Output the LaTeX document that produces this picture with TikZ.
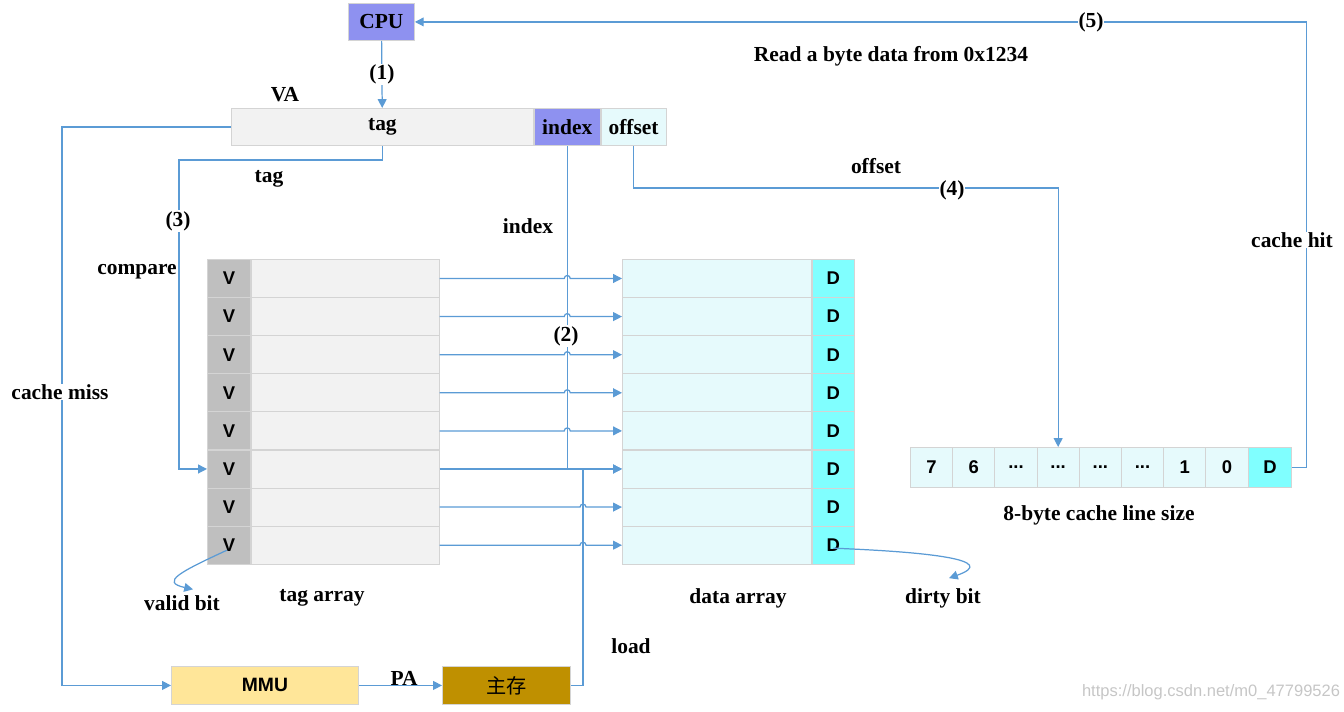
\documentclass[tikz,border=0pt]{standalone}
\usepackage{fontspec}
\setmainfont{Liberation Serif}
\setsansfont{Liberation Sans}
\newfontfamily\cjk{Noto Sans CJK SC}
\usetikzlibrary{calc, positioning, arrows.meta}
\definecolor{wire}{HTML}{5B9BD5}
\definecolor{cpublue}{HTML}{8E91F0}
\definecolor{tagfill}{HTML}{F2F2F2}
\definecolor{datafill}{HTML}{E6FAFC}
\definecolor{dirtyfill}{HTML}{80FFFF}
\definecolor{validfill}{HTML}{BFBFBF}
\definecolor{mmufill}{HTML}{FFE699}
\definecolor{memfill}{HTML}{BF9000}
\definecolor{edge}{HTML}{D4D4D4}
\newcommand{\cellgap}{...}

\begin{document}
\begin{tikzpicture}[
    x=0.02cm, y=-0.02cm,
    lbl/.style={font=\fontsize{12.2}{14}\selectfont\bfseries, inner sep=1pt},
    onwire/.style={lbl, fill=white, inner sep=0.5pt},
    fieldbox/.style={draw=edge, line width=0.5pt, minimum height=0.74cm, inner sep=0pt, font=\fontsize{12.2}{14}\selectfont\bfseries},
    cellbox/.style={draw=edge, line width=0.5pt, minimum height=0.762cm, inner sep=0pt, font=\sffamily\bfseries\fontsize{10.5}{12}\selectfont},
    wireline/.style={draw=wire, line width=0.7pt},
    arr/.style={wireline, -{Triangle[width=5pt, length=5pt]}}
  ]
    \useasboundingbox (0,0) rectangle (1344,712);

    % CPU and virtual address
    \node[fieldbox, fill=cpublue, anchor=north west, minimum width=1.32cm] (cpu) at (348,3) {CPU};
    \node[fieldbox, fill=tagfill, anchor=north west, minimum width=6.04cm] (vatag) at (231,108) {tag};
    \node[fieldbox, fill=cpublue, right=0pt of vatag, minimum width=1.32cm] (vaidx) {index};
    \node[fieldbox, fill=datafill, right=0pt of vaidx, minimum width=1.30cm] (vaoff) {offset};

    % tag array and data array
    \foreach \i in {1,...,8}{
      \node[cellbox, fill=validfill, anchor=north west, minimum width=0.86cm] (v\i) at (207,{259+38.1*(\i-1)}) {V};
      \node[cellbox, fill=tagfill, right=0pt of v\i, minimum width=3.76cm] (t\i) {};
      \node[cellbox, fill=datafill, anchor=north west, minimum width=3.78cm] (d\i) at (622,{259+38.1*(\i-1)}) {};
      \node[cellbox, fill=dirtyfill, right=0pt of d\i, minimum width=0.84cm] (dd\i) {D};
    }

    % cache line
    \foreach \t [count=\k] in {7,6,\cellgap,\cellgap,\cellgap,\cellgap,1,0}{
      \node[cellbox, fill=datafill, anchor=north west, minimum width=0.844cm, minimum height=0.8cm] (c\k) at ({910+42.2*(\k-1)},447) {\t};
    }
    \node[cellbox, fill=dirtyfill, right=0pt of c8, minimum width=0.844cm, minimum height=0.8cm] (c9) {D};

    % MMU and main memory
    \node[cellbox, fill=mmufill, anchor=north west, minimum width=3.74cm, minimum height=0.76cm, font=\sffamily\bfseries\fontsize{11}{13}\selectfont] (mmu) at (171,666) {MMU};
    \node[cellbox, fill=memfill, anchor=north west, minimum width=2.56cm, minimum height=0.76cm, font=\cjk\fontsize{11.5}{13}\selectfont] (mem) at (442,666) {主存};

    % labels
    \node[lbl] (va) at (285,95) {VA};
    \node[lbl] (readlbl) at (891,56) {Read a byte data from 0x1234};
    \node[lbl] (offlbl) at (876,166) {offset};
    \node[lbl] (taglbl) at (269,179) {tag};
    \node[lbl] (idxlbl) at (528,226) {index};
    \node[lbl] (cmplbl) at (137,272) {compare};
    \node[lbl] (sizelbl) at (1099,515) {8-byte cache line size};
    \node[lbl] (valid) at (182,603) {valid bit};
    \node[lbl] (tagarr) at (322,598) {tag array};
    \node[lbl] (dataarr) at (738,598) {data array};
    \node[lbl] (dirty) at (943,598) {dirty bit};
    \node[lbl] (loadlbl) at (631,646) {load};
    \node[font=\sffamily\fontsize{9.4}{11}\selectfont, text=gray!45] (wm) at (1211,692) {https://blog.csdn.net/m0\_47799526};

    % connectors
    \coordinate (cmp) at (179,160);
    \coordinate (offy) at (0,188);
    \coordinate (ldx) at (583,0);
    \draw[arr] (cpu) -- node[onwire] {(1)} (vatag);
    \draw[arr] (vatag.west) -- ++(-169,0) |- (mmu.west);
    \draw[arr] (vatag.south) |- (cmp) |- (v6.west);
    \draw[arr] (vaidx.south) |- (d6.west);
    \draw[arr] (vaoff.south) |- (offy -| c4.north) -- (c4.north);
    \draw[arr] (c9.east) -- ++(15,0) |- (cpu.east);
    \draw[wireline] (mem.east) -| (ldx |- d6.west);
    \draw[arr] (mmu) -- (mem);
    \foreach \i in {1,...,5}
      \draw[arr] (t\i.east) -- ($(t\i.east -| vaidx.south)+(-3,0)$) arc[start angle=180, end angle=0, radius=0.06cm] -- (d\i.west);
    \draw[arr] (t6.east) -- (d6.west);
    \foreach \i in {7,8}
      \draw[arr] (t\i.east) -- ($(t\i.east -| ldx)+(-3,0)$) arc[start angle=180, end angle=0, radius=0.06cm] -- (d\i.west);
    \draw[arr] ($(v8.center)+(-2,5)$) .. controls (180,572) and (160,582) .. ($(valid.north)+(11,-4)$);
    \draw[arr] ($(dd8.center)+(0,3)$) .. controls (930,552) and (1000,560) .. ($(dirty.north)+(6,-8)$);

    % labels sitting on wires
    \node[onwire] (n2) at (566,336) {(2)};
    \node[onwire] (n3) at (178,221) {(3)};
    \node[onwire] (n4) at (952,190) {(4)};
    \node[onwire] (n5) at (1091,22) {(5)};
    \node[onwire] (misslbl) at (60,392) {cache miss};
    \node[onwire] (hitlbl) at (1292,240) {cache hit};
    \node[lbl, anchor=south, inner sep=0pt] (palbl) at (404,686) {PA};
  \end{tikzpicture}
\end{document}
